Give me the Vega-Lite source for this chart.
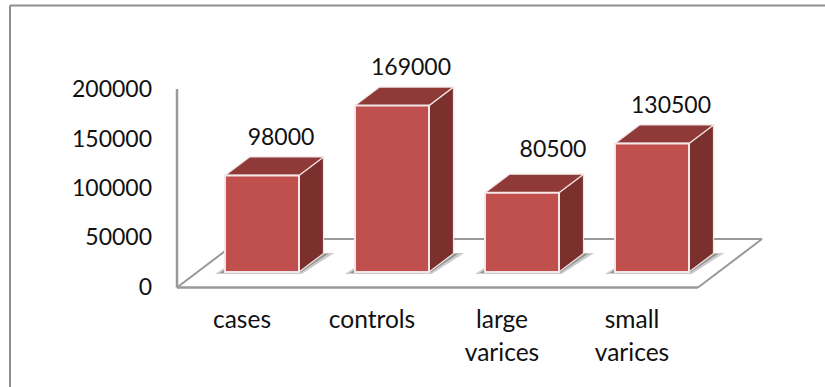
{
  "$schema": "https://vega.github.io/schema/vega-lite/v6.json",
  "width": 825,
  "height": 387,
  "padding": 0,
  "autosize": {"type": "none"},
  "background": "white",
  "config": {"view": {"stroke": null}, "font": "Lato"},
  "datasets": {
    "bars": [
      {"category": "cases", "value": 98000},
      {"category": "controls", "value": 169000},
      {"category": "large varices", "value": 80500},
      {"category": "small varices", "value": 130500}
    ],
    "ticks": [{"value": 0}, {"value": 50000}, {"value": 100000}, {"value": 150000}, {"value": 200000}],
    "frame": [{"part": "frame and floor"}]
  },
  "data": {"name": "bars"},
  "transform": [
    {"window": [{"op": "row_number", "as": "slot"}]},
    {"calculate": "[0, 1]", "as": "t"},
    {"flatten": ["t"]},
    {"calculate": "datum.slot + datum.t * 0.1885", "as": "faceLeft"},
    {"calculate": "datum.slot + 0.5692 + datum.t * 0.1885", "as": "faceRight"},
    {"calculate": "15736 + datum.t * 18782", "as": "faceFloor"},
    {"calculate": "datum.faceFloor + datum.value", "as": "faceRoof"},
    {"calculate": "datum.slot - 0.077 + datum.t * 0.25", "as": "shadowLeft"},
    {"calculate": "datum.slot + 0.59 + datum.t * 0.25", "as": "shadowRight"},
    {"calculate": "13700 + datum.t * 21300", "as": "shadowY"},
    {"calculate": "datum.slot - 0.04 + datum.t * 0.22", "as": "coreLeft"},
    {"calculate": "datum.slot + 0.575 + datum.t * 0.22", "as": "coreRight"},
    {"calculate": "14800 + datum.t * 19500", "as": "coreY"},
    {"calculate": "datum.slot + 0.1308", "as": "nameX"},
    {"calculate": "datum.slot + 0.4308 + (datum.slot === 3 ? 0.092 : 0)", "as": "valueX"},
    {"calculate": "15736 + datum.value + 38300 + (datum.slot === 3 ? 5000 : 0)", "as": "valueY"},
    {"calculate": "split(datum.category, ' ')", "as": "nameLines"}
  ],
  "layer": [
    {
      "data": {"name": "frame"},
      "transform": [],
      "mark": {"type": "rule", "color": "#8f8f8f", "strokeWidth": 2},
      "encoding": {
        "x": {"datum": -0.6538, "type": "quantitative", "scale": {"domain": [-0.7308, 5.6154], "nice": false, "zero": false}, "axis": null},
        "y": {"datum": -101015, "type": "quantitative", "scale": {"domain": [-101015, 291878], "nice": false, "zero": false}, "axis": null},
        "y2": {"datum": 286294}
      }
    },
    {
      "data": {"name": "frame"},
      "transform": [],
      "mark": {"type": "rule", "color": "#8f8f8f", "strokeWidth": 2},
      "encoding": {
        "x": {"datum": -0.6538, "type": "quantitative", "scale": {"domain": [-0.7308, 5.6154], "nice": false, "zero": false}, "axis": null},
        "x2": {"datum": 5.6154},
        "y": {"datum": 286294, "type": "quantitative", "scale": {"domain": [-101015, 291878], "nice": false, "zero": false}, "axis": null}
      }
    },
    {
      "data": {"name": "frame"},
      "transform": [],
      "mark": {"type": "rule", "color": "#999999", "strokeWidth": 2.5},
      "encoding": {
        "x": {"datum": 0.6308, "type": "quantitative", "scale": {"domain": [-0.7308, 5.6154], "nice": false, "zero": false}, "axis": null},
        "y": {"datum": 0, "type": "quantitative", "scale": {"domain": [-101015, 291878], "nice": false, "zero": false}, "axis": null},
        "y2": {"datum": 201500}
      }
    },
    {
      "data": {"name": "frame"},
      "transform": [],
      "mark": {"type": "rule", "color": "#999999", "strokeWidth": 2.5},
      "encoding": {
        "x": {"datum": 0.6308, "type": "quantitative", "scale": {"domain": [-0.7308, 5.6154], "nice": false, "zero": false}, "axis": null},
        "x2": {"datum": 4.6385},
        "y": {"datum": 0, "type": "quantitative", "scale": {"domain": [-101015, 291878], "nice": false, "zero": false}, "axis": null}
      }
    },
    {
      "data": {"name": "frame"},
      "transform": [],
      "mark": {"type": "rule", "color": "#999999", "strokeWidth": 2},
      "encoding": {
        "x": {"datum": 1.1231, "type": "quantitative", "scale": {"domain": [-0.7308, 5.6154], "nice": false, "zero": false}, "axis": null},
        "x2": {"datum": 5.1308},
        "y": {"datum": 49239, "type": "quantitative", "scale": {"domain": [-101015, 291878], "nice": false, "zero": false}, "axis": null}
      }
    },
    {
      "data": {"name": "frame"},
      "transform": [],
      "mark": {"type": "rule", "color": "#999999", "strokeWidth": 2},
      "encoding": {
        "x": {"datum": 0.6308, "type": "quantitative", "scale": {"domain": [-0.7308, 5.6154], "nice": false, "zero": false}, "axis": null},
        "x2": {"datum": 1.1231},
        "y": {"datum": 0, "type": "quantitative", "scale": {"domain": [-101015, 291878], "nice": false, "zero": false}, "axis": null},
        "y2": {"datum": 49239}
      }
    },
    {
      "data": {"name": "frame"},
      "transform": [],
      "mark": {"type": "rule", "color": "#999999", "strokeWidth": 2},
      "encoding": {
        "x": {"datum": 4.6385, "type": "quantitative", "scale": {"domain": [-0.7308, 5.6154], "nice": false, "zero": false}, "axis": null},
        "x2": {"datum": 5.1308},
        "y": {"datum": 0, "type": "quantitative", "scale": {"domain": [-101015, 291878], "nice": false, "zero": false}, "axis": null},
        "y2": {"datum": 49239}
      }
    },
    {
      "data": {"name": "ticks"},
      "transform": [],
      "mark": {"type": "text", "font": "Lato", "fontSize": 23, "color": "#111111", "align": "right", "baseline": "middle"},
      "encoding": {
        "x": {"datum": 0.4385, "type": "quantitative", "scale": {"domain": [-0.7308, 5.6154], "nice": false, "zero": false}, "axis": null},
        "y": {"field": "value", "type": "quantitative", "scale": {"domain": [-101015, 291878], "nice": false, "zero": false}, "axis": null},
        "text": {"field": "value", "type": "quantitative", "format": "d"}
      }
    },
    {
      "mark": {"type": "area", "orient": "horizontal", "color": "#a0a0a0", "opacity": 0.55},
      "encoding": {
        "y": {"field": "shadowY", "type": "quantitative", "stack": false, "scale": {"domain": [-101015, 291878], "nice": false, "zero": false}, "axis": null},
        "x": {"field": "shadowLeft", "type": "quantitative", "stack": false, "scale": {"domain": [-0.7308, 5.6154], "nice": false, "zero": false}, "axis": null},
        "x2": {"field": "shadowRight"},
        "detail": {"field": "category"}
      }
    },
    {
      "mark": {"type": "area", "orient": "horizontal", "color": "#6f6f6f", "opacity": 0.6},
      "encoding": {
        "y": {"field": "coreY", "type": "quantitative", "stack": false, "scale": {"domain": [-101015, 291878], "nice": false, "zero": false}, "axis": null},
        "x": {"field": "coreLeft", "type": "quantitative", "stack": false, "scale": {"domain": [-0.7308, 5.6154], "nice": false, "zero": false}, "axis": null},
        "x2": {"field": "coreRight"},
        "detail": {"field": "category"}
      }
    },
    {
      "mark": {"type": "area", "orient": "vertical", "color": "#7b302e", "stroke": "#f0e4e3", "strokeWidth": 1.2},
      "encoding": {
        "x": {"field": "faceRight", "type": "quantitative", "stack": false, "scale": {"domain": [-0.7308, 5.6154], "nice": false, "zero": false}, "axis": null},
        "y": {"field": "faceFloor", "type": "quantitative", "stack": false, "scale": {"domain": [-101015, 291878], "nice": false, "zero": false}, "axis": null},
        "y2": {"field": "faceRoof"},
        "detail": {"field": "category"}
      }
    },
    {
      "mark": {"type": "area", "orient": "horizontal", "color": "#8f3a38", "stroke": "#f0e4e3", "strokeWidth": 1.2},
      "encoding": {
        "y": {"field": "faceRoof", "type": "quantitative", "stack": false, "scale": {"domain": [-101015, 291878], "nice": false, "zero": false}, "axis": null},
        "x": {"field": "faceLeft", "type": "quantitative", "stack": false, "scale": {"domain": [-0.7308, 5.6154], "nice": false, "zero": false}, "axis": null},
        "x2": {"field": "faceRight"},
        "detail": {"field": "category"}
      }
    },
    {
      "transform": [{"filter": "datum.t === 0"}],
      "mark": {"type": "rect", "color": "#c0504d", "stroke": "#f3e8e7", "strokeWidth": 2},
      "encoding": {
        "x": {"field": "faceLeft", "type": "quantitative", "scale": {"domain": [-0.7308, 5.6154], "nice": false, "zero": false}, "axis": null},
        "x2": {"field": "faceRight"},
        "y": {"field": "faceFloor", "type": "quantitative", "scale": {"domain": [-101015, 291878], "nice": false, "zero": false}, "axis": null},
        "y2": {"field": "faceRoof"}
      }
    },
    {
      "transform": [{"filter": "datum.t === 0"}],
      "mark": {"type": "text", "font": "Lato", "fontSize": 23, "color": "#111111", "align": "center", "baseline": "middle"},
      "encoding": {
        "x": {"field": "valueX", "type": "quantitative", "scale": {"domain": [-0.7308, 5.6154], "nice": false, "zero": false}, "axis": null},
        "y": {"field": "valueY", "type": "quantitative", "scale": {"domain": [-101015, 291878], "nice": false, "zero": false}, "axis": null},
        "text": {"field": "value", "type": "quantitative", "format": "d"}
      }
    },
    {
      "transform": [{"filter": "datum.t === 0"}],
      "mark": {"type": "text", "font": "Lato", "fontSize": 24.5, "color": "#111111", "align": "center", "baseline": "alphabetic", "lineHeight": 33},
      "encoding": {
        "x": {"field": "nameX", "type": "quantitative", "scale": {"domain": [-0.7308, 5.6154], "nice": false, "zero": false}, "axis": null},
        "y": {"datum": -41117, "type": "quantitative", "scale": {"domain": [-101015, 291878], "nice": false, "zero": false}, "axis": null},
        "text": {"field": "nameLines"}
      }
    }
  ]
}
